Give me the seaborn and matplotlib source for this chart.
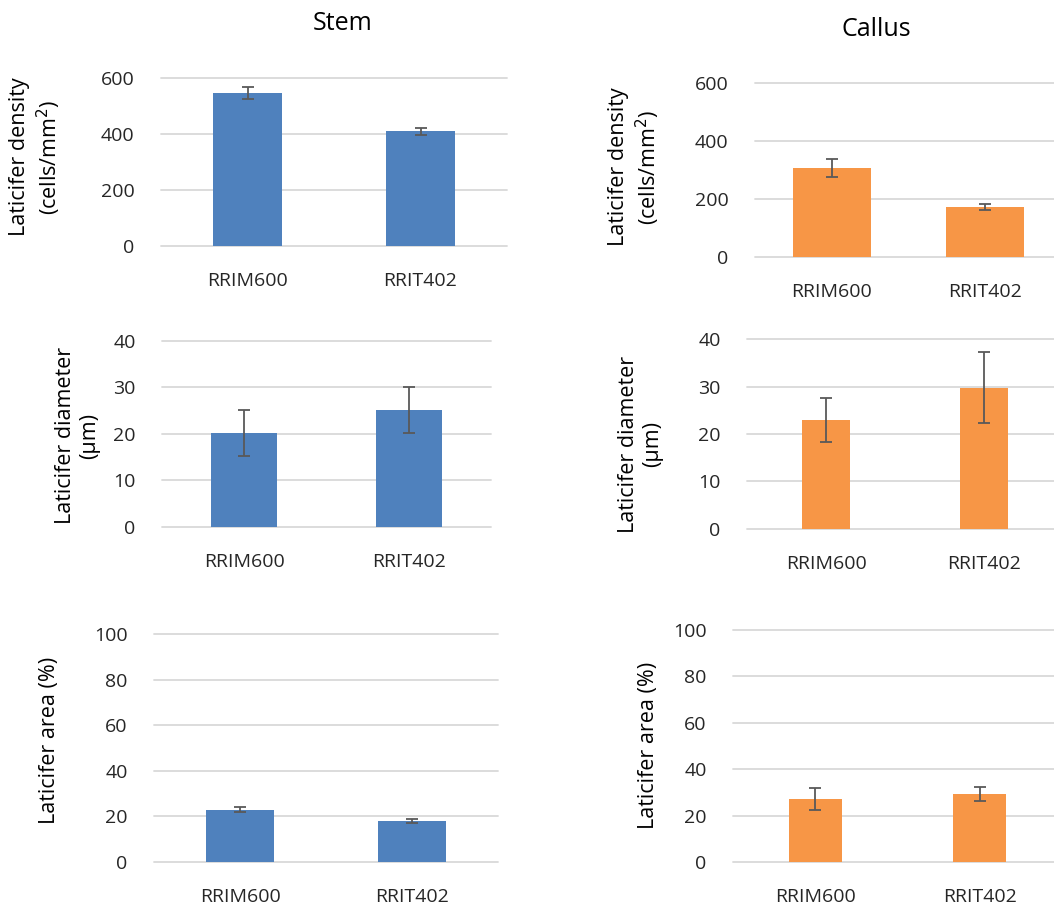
import matplotlib
matplotlib.use("Agg")
import matplotlib.pyplot as plt
import seaborn as sns

categories = ["RRIM600", "RRIT402"]

stem_density = [547, 410]
stem_density_err = [22, 12]
callus_density = [307, 170]
callus_density_err = [31, 10]

stem_diameter = [20.1, 25.1]
stem_diameter_err = [5.0, 4.9]
callus_diameter = [22.9, 29.8]
callus_diameter_err = [4.6, 7.5]

stem_area = [23.0, 17.9]
stem_area_err = [1.1, 0.8]
callus_area = [27.1, 29.1]
callus_area_err = [4.6, 3.0]

sns.set_theme(style="white")
plt.rcParams["font.family"] = ["Open Sans", "DejaVu Sans"]

W, H = 1054, 910
fig = plt.figure(figsize=(W / 100, H / 100), dpi=100)

BLUE = "#4F81BD"
ORANGE = "#F79646"
GRID = "#D9D9D9"
ERR = "#595959"
TXT = "#262626"


def add_ax(x0, y0, x1, y1):
    return fig.add_axes([x0 / W, 1 - y1 / H, (x1 - x0) / W, (y1 - y0) / H])


panels = [
    ((161, 78, 507, 246), stem_density, stem_density_err, BLUE, 0.40, 600, [0, 200, 400, 600],
     "Laticifer density\n(cells/mm$^{2}$)", (-0.283, 0.53)),
    ((755, 82.7, 1062, 256.7), callus_density, callus_density_err, ORANGE, 0.51, 600, [0, 200, 400, 600],
     "Laticifer density\n(cells/mm$^{2}$)", (-0.303, 0.515)),
    ((162, 340.7, 491, 526.7), stem_diameter, stem_diameter_err, BLUE, 0.40, 40, [0, 10, 20, 30, 40],
     "Laticifer diameter\n(\u00b5m)", (-0.188, 0.488)),
    ((747, 339.3, 1063, 528.7), callus_diameter, callus_diameter_err, ORANGE, 0.31, 40, [0, 10, 20, 30, 40],
     "Laticifer diameter\n(\u00b5m)", (-0.266, 0.447)),
    ((154, 634.3, 498, 862), stem_area, stem_area_err, BLUE, 0.40, 100, [0, 20, 40, 60, 80, 100],
     "Laticifer area (%)", (-0.273, 0.536)),
    ((733, 629.7, 1062, 862), callus_area, callus_area_err, ORANGE, 0.32, 100, [0, 20, 40, 60, 80, 100],
     "Laticifer area (%)", (-0.225, 0.5)),
]

for box, vals, errs, color, bw, ymax, ticks, ylabel, lc in panels:
    ax = add_ax(*box)
    sns.barplot(x=categories, y=vals, ax=ax, color=color, width=bw,
                errorbar=None, saturation=1, linewidth=0)
    ax.errorbar(x=list(range(len(categories))), y=vals, yerr=errs, fmt="none",
                ecolor=ERR, elinewidth=1.3, capsize=4, capthick=1.3, zorder=5)
    ax.set_xlim(-0.5, 1.5)
    ax.set_ylim(0, ymax)
    ax.set_yticks(ticks)
    ax.set_axisbelow(True)
    ax.yaxis.grid(True, color=GRID, linewidth=1.3)
    for gl in ax.get_ygridlines():
        gl.set_clip_on(False)
    for s in ax.spines.values():
        s.set_visible(False)
    ax.tick_params(axis="x", length=0, pad=19, labelsize=14, labelcolor=TXT)
    ax.tick_params(axis="y", length=0, pad=19, labelsize=14, labelcolor=TXT)
    ax.set_xlabel("")
    ax.set_ylabel(ylabel, fontsize=15.5, color="black", linespacing=1.2)
    ax.yaxis.set_label_coords(*lc)

fig.text(343 / W, 1 - 24 / H, "Stem", ha="center", va="center", fontsize=18, color="black")
fig.text(876 / W, 1 - 29 / H, "Callus", ha="center", va="center", fontsize=18, color="black")

fig.savefig("out.png", dpi=100)
